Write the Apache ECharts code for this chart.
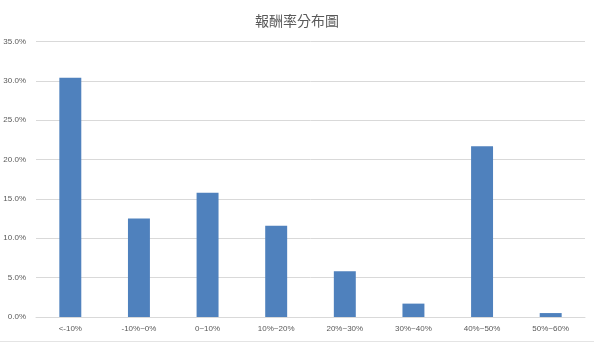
<!DOCTYPE html>
<html>
<head>
<meta charset="utf-8">
<script src="https://cdn.jsdelivr.net/npm/echarts@6/dist/echarts.min.js"></script>
<style>
  html, body { margin: 0; padding: 0; background: #fff; }
  #chart { width: 594px; height: 343px; }
</style>
</head>
<body>
<div id="chart"></div>
<script>
// Return-rate buckets and the share of cases falling in each (percent)
const categories = ['<-10%', '-10%~0%', '0~10%', '10%~20%', '20%~30%', '30%~40%', '40%~50%', '50%~60%'];
const shares = [30.4, 12.5, 15.8, 11.6, 5.8, 1.7, 21.7, 0.5];
const yTicks = { min: 0, max: 35, interval: 5 };

const chart = echarts.init(document.getElementById('chart'), null, { renderer: 'canvas' });

chart.setOption({
  animation: false,
  backgroundColor: '#ffffff',
  title: {
    text: '報酬率分布圖',
    left: 'center',
    top: 9,
    textStyle: {
      fontFamily: '"Noto Sans CJK TC", sans-serif',
      fontSize: 14,
      fontWeight: 'normal',
      color: '#595959'
    }
  },
  grid: { left: 36, right: 9, top: 41.5, bottom: 26, containLabel: false },
  xAxis: {
    type: 'category',
    data: categories,
    axisLine: { lineStyle: { color: '#d9d9d9', width: 1 } },
    axisTick: { show: false },
    axisLabel: {
      color: '#595959',
      fontSize: 8,
      fontFamily: '"Liberation Sans", Arial, sans-serif',
      margin: 8
    }
  },
  yAxis: {
    type: 'value',
    min: yTicks.min,
    max: yTicks.max,
    interval: yTicks.interval,
    axisLine: { show: false },
    axisTick: { show: false },
    splitLine: { lineStyle: { color: '#d9d9d9', width: 1 } },
    axisLabel: {
      color: '#595959',
      fontSize: 8,
      fontFamily: '"Liberation Sans", Arial, sans-serif',
      margin: 10,
      formatter: v => v.toFixed(1) + '%'
    }
  },
  series: [{
    type: 'bar',
    data: shares,
    barWidth: '32%',
    itemStyle: { color: '#4f81bd' }
  }],
  graphic: [{
    type: 'line',
    shape: { x1: 0, y1: 341.5, x2: 594, y2: 341.5 },
    style: { stroke: '#e4e4e4', lineWidth: 1 },
    silent: true
  }]
});
</script>
</body>
</html>
